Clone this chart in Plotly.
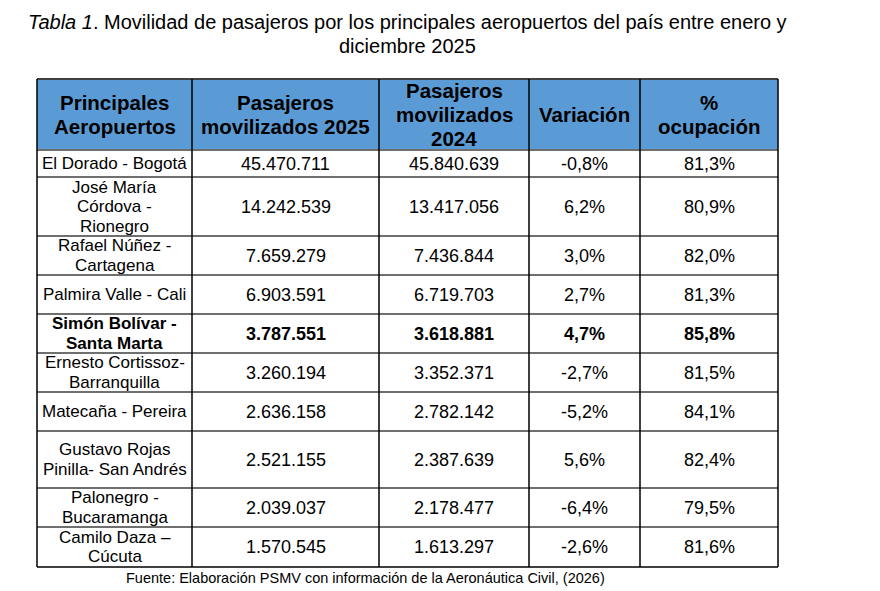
import plotly.graph_objects as go

# Tabla 1 - movilidad de pasajeros, principales aeropuertos (ene-dic 2025)

titulo = ["<i>Tabla 1</i>. Movilidad de pasajeros por los principales aeropuertos del país entre enero y",
          "diciembre 2025"]
fuente = "Fuente: Elaboración PSMV con información de la Aeronáutica Civil, (2026)"

encabezados = ["Principales<br>Aeropuertos", "Pasajeros<br>movilizados 2025",
               "Pasajeros<br>movilizados<br>2024", "Variación", "%<br>ocupación"]

aeropuertos = ["El Dorado - Bogotá", "José María<br>Córdova -<br>Rionegro",
               "Rafael Núñez -<br>Cartagena", "Palmira Valle - Cali",
               "Simón Bolívar -<br>Santa Marta", "Ernesto Cortissoz-<br>Barranquilla",
               "Matecaña - Pereira", "Gustavo Rojas<br>Pinilla- San Andrés",
               "Palonegro -<br>Bucaramanga", "Camilo Daza –<br>Cúcuta"]
pasajeros_2025 = ["45.470.711", "14.242.539", "7.659.279", "6.903.591", "3.787.551",
                  "3.260.194", "2.636.158", "2.521.155", "2.039.037", "1.570.545"]
pasajeros_2024 = ["45.840.639", "13.417.056", "7.436.844", "6.719.703", "3.618.881",
                  "3.352.371", "2.782.142", "2.387.639", "2.178.477", "1.613.297"]
variacion = ["-0,8%", "6,2%", "3,0%", "2,7%", "4,7%", "-2,7%", "-5,2%", "5,6%", "-6,4%", "-2,6%"]
ocupacion = ["81,3%", "80,9%", "82,0%", "81,3%", "85,8%", "81,5%", "84,1%", "82,4%", "79,5%", "81,6%"]
fila_destacada = 4  # Santa Marta en negrita

# ---- geometria de la tabla (pixeles de la pagina)
col_edges = [37, 192, 379, 529, 640, 778]
row_heights = [71, 27, 59, 39, 39, 39, 39, 39, 57, 39, 40]
top = 79
row_edges = [top]
for h in row_heights:
    row_edges.append(row_edges[-1] + h)

OFF = 8  # margen del body del html
FONT = "Liberation Sans, Arial, sans-serif"
header_color = "#5B9BD5"

fig = go.Figure()
fig.add_trace(go.Scatter(x=[], y=[], showlegend=False))

shapes = []
annotations = []

# fondo del encabezado
shapes.append(dict(type="rect", xref="x", yref="y", x0=col_edges[0], x1=col_edges[-1],
                   y0=row_edges[0], y1=row_edges[1], fillcolor=header_color, line=dict(width=0),
                   layer="below"))

# lineas horizontales
for i, yy in enumerate(row_edges):
    color = "#404040" if i in (0, len(row_edges) - 1) else "#6f6f6f"
    shapes.append(dict(type="line", xref="x", yref="y", x0=col_edges[0], x1=col_edges[-1],
                       y0=yy, y1=yy, line=dict(color=color, width=2)))
# lineas verticales
for xx in col_edges:
    shapes.append(dict(type="line", xref="x", yref="y", x0=xx, x1=xx,
                       y0=row_edges[0], y1=row_edges[-1], line=dict(color="black", width=1.5)))


def cell_text(text, col, row, size, spacing, bold=False):
    xc = (col_edges[col] + col_edges[col + 1]) / 2
    yc = (row_edges[row] + row_edges[row + 1]) / 2
    lines = text.split("<br>")
    k = len(lines)
    for i, ln in enumerate(lines):
        t = "<b>" + ln + "</b>" if bold else ln
        annotations.append(dict(x=xc, y=yc + (i - (k - 1) / 2) * spacing, xref="x", yref="y",
                                text=t, showarrow=False, xanchor="center", yanchor="middle",
                                font=dict(family=FONT, size=size, color="black")))


for c, h in enumerate(encabezados):
    cell_text(h, c, 0, 20.5, 24, bold=True)

columnas = [aeropuertos, pasajeros_2025, pasajeros_2024, variacion, ocupacion]
for r in range(len(aeropuertos)):
    for c, col in enumerate(columnas):
        size = 17 if c == 0 else 18
        cell_text(col[r], c, r + 1, size, 19.5, bold=(r == fila_destacada))

# titulo
for i, ln in enumerate(titulo):
    annotations.append(dict(x=407, y=22 + i * 23.5, xref="x", yref="y", text=ln, showarrow=False,
                            xanchor="center", yanchor="middle",
                            font=dict(family=FONT, size=20, color="black")))
# fuente
annotations.append(dict(x=365, y=578, xref="x", yref="y", text=fuente, showarrow=False,
                        xanchor="center", yanchor="middle",
                        font=dict(family=FONT, size=14.5, color="black")))

fig.update_layout(
    width=880, height=591,
    margin=dict(l=0, r=0, t=0, b=0),
    paper_bgcolor="white", plot_bgcolor="white",
    xaxis=dict(range=[OFF, 880 + OFF], visible=False, fixedrange=True),
    yaxis=dict(range=[591 + OFF, OFF], visible=False, fixedrange=True),
    shapes=shapes, annotations=annotations,
    showlegend=False,
)

fig.write_html("out.html")
